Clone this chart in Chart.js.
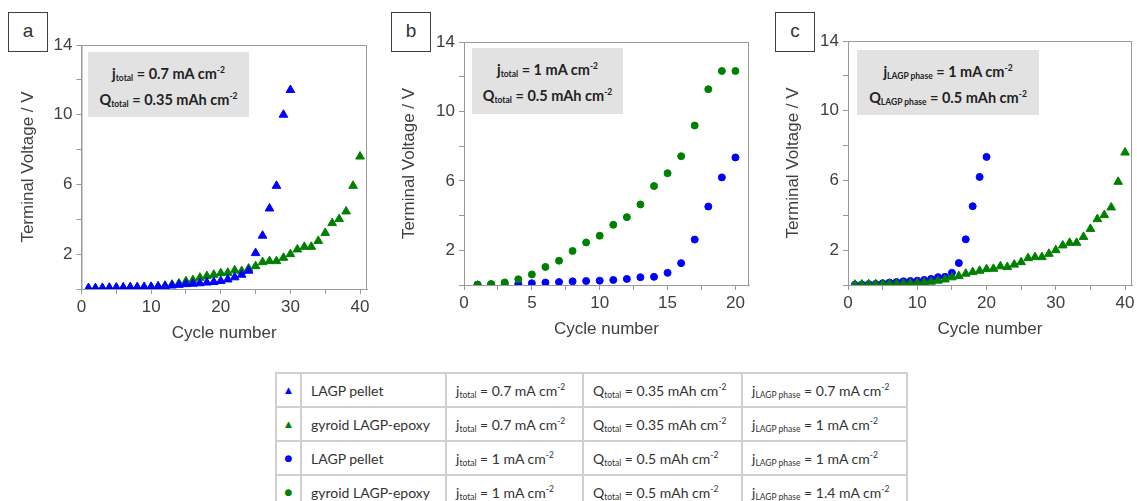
<!DOCTYPE html>
<html>
<head>
<meta charset="utf-8">
<script src="https://cdn.jsdelivr.net/npm/chart.js@4.4.1/dist/chart.umd.min.js"></script>
<style>
	html, body {
		margin: 0;
		padding: 0;
		width: 1137px;
		height: 501px;
		overflow: hidden;
		background: #fff;
	}
	body {
		position: relative;
		font-family: 'Liberation Sans', Arial, sans-serif;
	}
	.panel {
		position: absolute;
	}
	.tag {
		position: absolute;
		top: 12px;
		width: 38px;
		height: 38px;
		border: 1.5px solid #404040;
		font-size: 19px;
		line-height: 36px;
		text-align: center;
		color: #333;
		background: #fff;
		z-index: 2;
	}
	.note {
		position: absolute;
		background: #e2e2e2;
		font-family: Lato, 'Open Sans', sans-serif;
		font-weight: bold;
		font-size: 14.5px;
		line-height: 26px;
		text-align: center;
		color: #222;
		padding-top: 9px;
		box-sizing: border-box;
		z-index: 2;
	}
	sub, sup {
		font-size: 8.5px;
		line-height: 0;
	}
	sub {
		vertical-align: -2px;
	}
	sup {
		vertical-align: 6px;
	}
	.legend {
		position: absolute;
		left: 275px;
		top: 372px;
		width: 631px;
		table-layout: fixed;
		border-collapse: collapse;
		font-family: Lato, 'Open Sans', sans-serif;
		font-size: 14px;
		color: #333;
	}
	.legend td {
		border: 2px solid #cfcfcf;
		height: 32px;
		padding: 0 0 0 9px;
		white-space: nowrap;
		overflow: hidden;
	}
	.legend td.mk {
		padding: 0;
		text-align: center;
		font-size: 9px;
		font-family: 'DejaVu Sans', sans-serif;
	}
</style>
</head>
<body>

<div class="tag" style="left: 8px">a</div>
<div class="tag" style="left: 391px">b</div>
<div class="tag" style="left: 775px">c</div>

<div class="note" style="left: 88px; top: 52px; width: 161px; height: 65px">
	<div>j<sub>total</sub> = 0.7 mA cm<sup>-2</sup></div>
	<div>Q<sub>total</sub> = 0.35 mAh cm<sup>-2</sup></div>
</div>
<div class="note" style="left: 472px; top: 48px; width: 151px; height: 66px">
	<div>j<sub>total</sub> = 1 mA cm<sup>-2</sup></div>
	<div>Q<sub>total</sub> = 0.5 mAh cm<sup>-2</sup></div>
</div>
<div class="note" style="left: 857px; top: 50px; width: 182px; height: 65px">
	<div>j<sub>LAGP phase</sub> = 1 mA cm<sup>-2</sup></div>
	<div>Q<sub>LAGP phase</sub> = 0.5 mAh cm<sup>-2</sup></div>
</div>

<div class="panel" id="panelA"><canvas id="chartA"></canvas></div>
<div class="panel" id="panelB"><canvas id="chartB"></canvas></div>
<div class="panel" id="panelC"><canvas id="chartC"></canvas></div>

<table class="legend" id="legend">
	<colgroup>
		<col style="width: 25px">
		<col style="width: 145px">
		<col style="width: 137px">
		<col style="width: 159px">
		<col style="width: 165px">
	</colgroup>
</table>

<script>
/* data */
const cycles30 = [1, 2, 3, 4, 5, 6, 7, 8, 9, 10, 11, 12, 13, 14, 15, 16, 17, 18, 19, 20, 21, 22, 23, 24, 25, 26, 27, 28, 29, 30]
const cycles40 = [1, 2, 3, 4, 5, 6, 7, 8, 9, 10, 11, 12, 13, 14, 15, 16, 17, 18, 19, 20, 21, 22, 23, 24, 25, 26, 27, 28, 29, 30, 31, 32, 33, 34, 35, 36, 37, 38, 39, 40]
const cycles20 = [1, 2, 3, 4, 5, 6, 7, 8, 9, 10, 11, 12, 13, 14, 15, 16, 17, 18, 19, 20]

// LAGP pellet, j total = 0.7 mA cm-2
const pelletLow = [0.05, 0.05, 0.06, 0.07, 0.08, 0.09, 0.1, 0.1, 0.11, 0.12, 0.14, 0.16, 0.2, 0.24, 0.28, 0.3, 0.33, 0.37, 0.4, 0.46, 0.55, 0.67, 0.82, 1.05, 2.06, 3.06, 4.62, 5.92, 10.0, 11.42]
// gyroid LAGP-epoxy, j total = 0.7 mA cm-2
const gyroidLow = [0.02, 0.03, 0.04, 0.05, 0.06, 0.07, 0.08, 0.09, 0.1, 0.12, 0.15, 0.19, 0.25, 0.32, 0.44, 0.51, 0.65, 0.74, 0.82, 0.91, 0.93, 1.07, 1.03, 1.17, 1.31, 1.54, 1.6, 1.6, 1.79, 2.0, 2.27, 2.42, 2.42, 2.76, 3.22, 3.78, 4.01, 4.45, 5.92, 7.6]
// LAGP pellet, j total = 1 mA cm-2
const pelletHigh = [0.02, 0.03, 0.05, 0.06, 0.1, 0.14, 0.17, 0.21, 0.23, 0.25, 0.29, 0.35, 0.45, 0.47, 0.7, 1.26, 2.62, 4.52, 6.2, 7.35]
// gyroid LAGP-epoxy, j total = 1 mA cm-2
const gyroidHigh = [0.02, 0.06, 0.15, 0.33, 0.61, 1.04, 1.4, 1.96, 2.45, 2.84, 3.47, 3.91, 4.64, 5.7, 6.44, 7.42, 9.19, 11.28, 12.33, 12.33]

const yTicks = [0, 2, 4, 6, 8, 10, 12, 14]
const yLabels = [2, 6, 10, 14]
const xTicks40 = [0, 5, 10, 15, 20, 25, 30, 35, 40]
const xLabels40 = [0, 10, 20, 30, 40]
const xTicks20 = [0, 2.5, 5, 7.5, 10, 12.5, 15, 17.5, 20]
const xLabels20 = [0, 5, 10, 15, 20]

const seriesNames = ['LAGP pellet', 'gyroid LAGP-epoxy', 'LAGP pellet', 'gyroid LAGP-epoxy']
const jTotal = ['0.7', '0.7', '1', '1']
const qTotal = ['0.35', '0.35', '0.5', '0.5']
const jPhase = ['0.7', '1', '1', '1.4']

const BLUE = '#0000ff'
const GREEN = '#008000'
const FONT = "'Liberation Sans', Arial, sans-serif"

function points(xs, ys) {
	return ys.map((y, i) => ({ x: xs[i], y: y }))
}

// draws the top and right edges of the plot box
const framePlugin = {
	id: 'frame',
	beforeDatasetsDraw(chart) {
		const a = chart.chartArea
		const c = chart.ctx
		c.save()
		c.strokeStyle = '#9a9a9a'
		c.lineWidth = 1
		c.strokeRect(a.left + 0.5, a.top + 0.5, a.right - a.left - 1, a.bottom - a.top)
		c.restore()
	},
}

function makePanel(panelId, canvasId, box, datasets, xMax, xTicks, xLabels) {
	// box: plot area [left, top, right, bottom] and y title centre
	const left = box.titleX - 10
	const top = box.top - 15
	const width = box.right + 15 - left
	const height = box.bottom + 55 - top
	const yWidth = box.left - left

	const panel = document.getElementById(panelId)
	panel.style.left = left + 'px'
	panel.style.top = top + 'px'
	const canvas = document.getElementById(canvasId)
	canvas.width = width
	canvas.height = height

	new Chart(canvas, {
		type: 'scatter',
		data: { datasets: datasets },
		options: {
			responsive: false,
			animation: false,
			layout: {
				padding: { left: 0, top: 15, right: 15, bottom: 0 },
			},
			scales: {
				x: {
					type: 'linear',
					min: 0,
					max: xMax,
					border: { color: '#9a9a9a', width: 1 },
					grid: {
						drawOnChartArea: false,
						drawTicks: true,
						tickLength: 5,
						color: '#9a9a9a',
					},
					ticks: {
						autoSkip: false,
						maxRotation: 0,
						padding: 3,
						color: '#404040',
						font: { family: FONT, size: 17 },
						callback: (v) => (xLabels.includes(v) ? v : ''),
					},
					afterBuildTicks: (s) => {
						s.ticks = xTicks.map((v) => ({ value: v }))
					},
					afterFit: (s) => {
						s.height = 55
						s.paddingLeft = 0
						s.paddingRight = 0
					},
					title: {
						display: true,
						text: 'Cycle number',
						color: '#404040',
						font: { family: FONT, size: 17 },
						padding: 0,
					},
				},
				y: {
					type: 'linear',
					min: 0,
					max: 14,
					border: { color: '#9a9a9a', width: 1 },
					grid: {
						drawOnChartArea: false,
						drawTicks: true,
						tickLength: 5,
						color: '#9a9a9a',
					},
					ticks: {
						autoSkip: false,
						padding: 4,
						color: '#404040',
						font: { family: FONT, size: 17 },
						callback: (v) => (yLabels.includes(v) ? v : ''),
					},
					afterBuildTicks: (s) => {
						s.ticks = yTicks.map((v) => ({ value: v }))
					},
					afterFit: (s) => {
						s.width = yWidth
						s.paddingTop = 0
						s.paddingBottom = 0
					},
					title: {
						display: true,
						text: 'Terminal Voltage / V',
						color: '#404040',
						font: { family: FONT, size: 17 },
						padding: 0,
					},
				},
			},
			plugins: {
				legend: { display: false },
				tooltip: { enabled: false },
			},
		},
		plugins: [framePlugin],
	})
}

function series(label, xs, ys, color, style, radius) {
	return {
		label: label,
		data: points(xs, ys),
		pointStyle: style,
		pointRadius: radius,
		pointBackgroundColor: color,
		pointBorderColor: color,
		pointBorderWidth: 1,
	}
}

/* panel a */
makePanel('panelA', 'chartA', { left: 81, top: 45, right: 367, bottom: 289, titleX: 27.5 }, [
	series('LAGP pellet', cycles30, pelletLow, BLUE, 'triangle', 5),
	series('gyroid LAGP-epoxy', cycles40, gyroidLow, GREEN, 'triangle', 5),
], 41, xTicks40, xLabels40)

/* panel b */
makePanel('panelB', 'chartB', { left: 464, top: 42, right: 749, bottom: 285, titleX: 409 }, [
	series('gyroid LAGP-epoxy', cycles20, gyroidHigh, GREEN, 'circle', 3.5),
	series('LAGP pellet', cycles20, pelletHigh, BLUE, 'circle', 3.5),
], 21, xTicks20, xLabels20)

/* panel c */
makePanel('panelC', 'chartC', { left: 848, top: 41, right: 1132, bottom: 285, titleX: 793 }, [
	series('gyroid LAGP-epoxy', cycles40, gyroidLow, GREEN, 'triangle', 5),
	series('LAGP pellet', cycles20, pelletHigh, BLUE, 'circle', 3.5),
], 41, xTicks40, xLabels40)

/* legend table */
const markers = [
	['&#9650;', BLUE],
	['&#9650;', GREEN],
	['&#9679;', BLUE],
	['&#9679;', GREEN],
]
const table = document.getElementById('legend')

seriesNames.forEach(function (name, i) {
	const row = document.createElement('tr')
	const cells = [
		markers[i][0],
		name,
		'j<sub>total</sub> = ' + jTotal[i] + ' mA cm<sup>-2</sup>',
		'Q<sub>total</sub> = ' + qTotal[i] + ' mAh cm<sup>-2</sup>',
		'j<sub>LAGP phase</sub> = ' + jPhase[i] + ' mA cm<sup>-2</sup>',
	]
	cells.forEach(function (html, k) {
		const td = document.createElement('td')
		td.innerHTML = html
		if (k === 0) {
			td.className = 'mk'
			td.style.color = markers[i][1]
		}
		row.appendChild(td)
	})
	table.appendChild(row)
})
</script>
</body>
</html>
